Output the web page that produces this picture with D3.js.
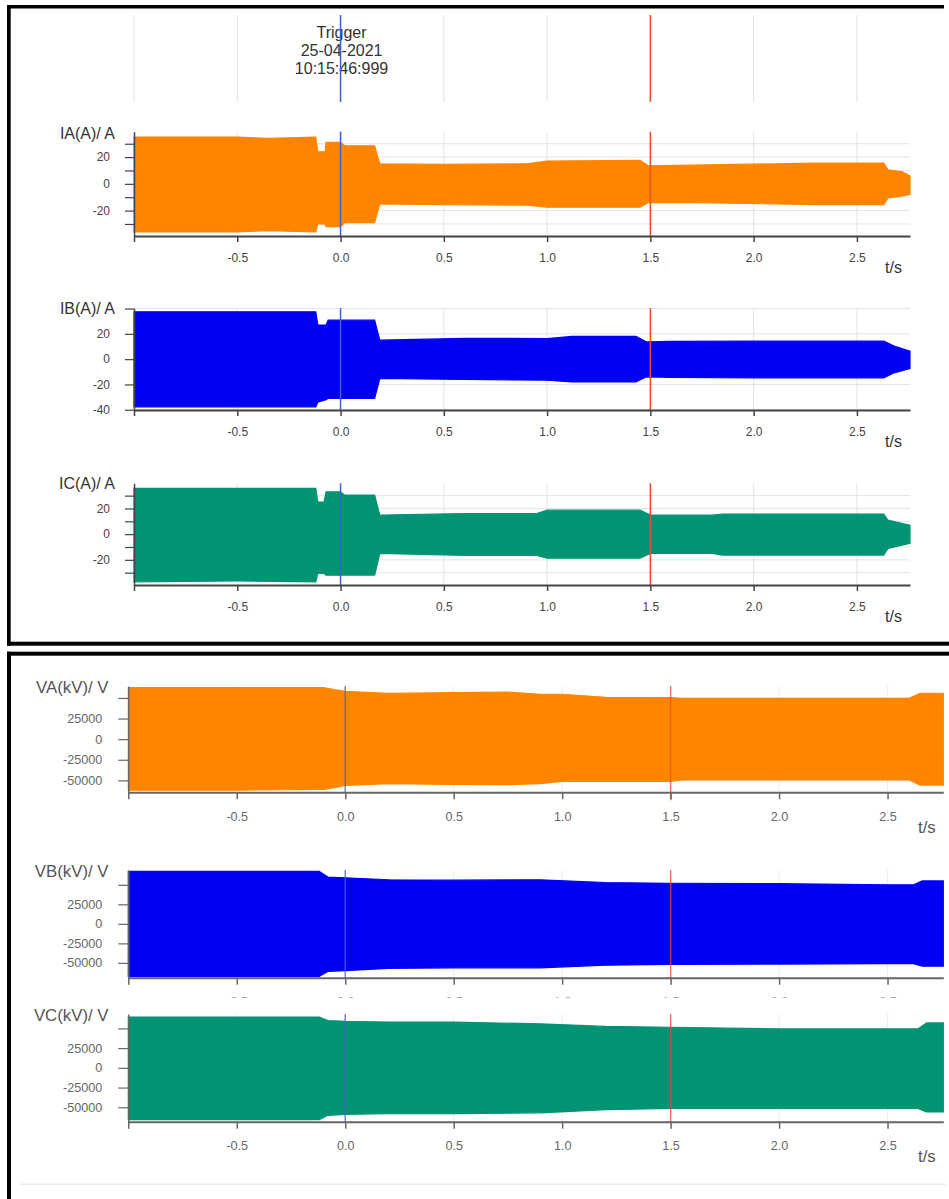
<!DOCTYPE html>
<html>
<head>
<meta charset="utf-8">
<script src="https://cdn.jsdelivr.net/npm/d3@7"></script>
<style>
  html, body { margin: 0; padding: 0; background: #fff; }
  svg { display: block; }
</style>
</head>
<body>
<svg id="chart" width="949" height="1199"></svg>
<script>
// ---------------- DATA ----------------
const timeDomain = [-1, 2.757];
const timeTicks = [-1, -0.5, 0, 0.5, 1.0, 1.5, 2.0, 2.5];
const timeTickLabels = ["", "-0.5", "0.0", "0.5", "1.0", "1.5", "2.0", "2.5"];
const triggerTime = 0;
const cursorTime = 1.5;
const triggerText = ["Trigger", "25-04-2021", "10:15:46:999"];
const axisUnit = "t/s";

const currentTicks = [-30, -20, -10, 0, 10, 20, 30];
const currentTickLabels = ["", "-20", "", "0", "", "20", ""];
const ibTicks = [-40, -20, 0, 20, 40];
const ibTickLabels = ["-40", "-20", "0", "20", ""];
const voltTicks = [-50000, -25000, 0, 25000, 50000];
const voltTickLabels = ["-50000", "-25000", "0", "25000", ""];

// envelopes (time s, upper peak, lower peak) read from the recording
const iaT   = [-1.0, -0.5, -0.35, -0.12, -0.11, -0.075, -0.07, 0.0, 0.02, 0.165, 0.19, 0.5, 0.9, 1.0, 1.45, 1.49, 1.7, 2.3, 2.63, 2.65, 2.72, 2.757];
const iaMax = [35, 35, 34, 35, 24, 24, 31, 31, 28.5, 28.5, 15, 14.5, 15, 17, 17.5, 13.5, 14, 15.5, 15.5, 10.5, 9, 6];
const iaMin = [-36, -36, -35, -36, -30, -30, -32, -32, -29, -29, -15, -15.5, -16, -17.5, -17.5, -14, -14, -15.5, -15.5, -10.5, -9, -8];

const ibT   = [-1.0, -0.5, -0.12, -0.11, -0.07, -0.06, 0.165, 0.19, 0.6, 1.0, 1.12, 1.43, 1.48, 1.6, 2.0, 2.4, 2.63, 2.68, 2.757];
const ibMax = [37.4, 37.4, 37.4, 27, 27, 30.8, 30.8, 15, 16.4, 16.3, 18, 18, 13.7, 14, 14.2, 14.2, 14.2, 10.3, 6.3];
const ibMin = [-37.7, -37.7, -37.7, -34, -32, -31, -31, -15.3, -16, -16.6, -18, -18, -14, -14.5, -14.8, -14.8, -14.8, -10.8, -7.4];

const icT   = [-1.0, -0.5, -0.12, -0.11, -0.08, -0.07, 0.0, 0.02, 0.165, 0.19, 0.6, 0.95, 1.0, 1.45, 1.5, 1.8, 1.85, 2.6, 2.63, 2.65, 2.757];
const icMax = [35.6, 35.6, 35.6, 25, 25, 33, 33, 30.4, 30.4, 14.8, 16.1, 16.1, 18.7, 18.7, 14.8, 14.8, 15.6, 15.6, 15.6, 10.9, 7];
const icMin = [-37.1, -36.5, -37.1, -30.6, -30.6, -32, -32, -31.9, -31.9, -15, -16.5, -16.5, -18.7, -18.7, -15, -15, -16.3, -16.3, -16.3, -11.2, -7.2];

const vaT   = [-1.0, -0.5, -0.1, -0.05, 0.0, 0.2, 0.5, 0.75, 0.9, 1.0, 1.2, 1.5, 1.55, 2.0, 2.6, 2.65, 2.757];
const vaMax = [62700, 62700, 62700, 60000, 58000, 55500, 56500, 57000, 54500, 54500, 50800, 50400, 49500, 49500, 49500, 55700, 55700];
const vaMin = [-61900, -61900, -61000, -59000, -56000, -54000, -55000, -55300, -54000, -51200, -51200, -51200, -49500, -49500, -49500, -55700, -55700];

const vbT   = [-1.0, -0.5, -0.12, -0.08, 0.0, 0.2, 0.5, 0.9, 1.2, 1.5, 2.0, 2.5, 2.62, 2.66, 2.757];
const vbMax = [67300, 67300, 67300, 60000, 59000, 56500, 56000, 56400, 53000, 52000, 51500, 50000, 50000, 55000, 55000];
const vbMin = [-67300, -67300, -67300, -61000, -60000, -57000, -56400, -56400, -53000, -52000, -51500, -51000, -51000, -54300, -54300];

const vcT   = [-1.0, -0.5, -0.12, -0.08, 0.0, 0.2, 0.5, 0.9, 1.2, 1.5, 2.0, 2.6, 2.64, 2.68, 2.757];
const vcMax = [64400, 64400, 64400, 60000, 59000, 58000, 58000, 55800, 52500, 51500, 49400, 49400, 49400, 57000, 57000];
const vcMin = [-65700, -65700, -65700, -60200, -59000, -58000, -58000, -57000, -53000, -51500, -51500, -51500, -51500, -56000, -56000];

const colorA = "#ff8500";
const colorB = "#0000f5";
const colorC = "#009473";

// ---------------- DRAW ----------------
const FONT = "'Liberation Sans', Arial, Helvetica, sans-serif";
const svg = d3.select("#chart");
svg.append("rect").attr("width", 949).attr("height", 1199).attr("fill", "#fff");

function drawPanel(o) {
  const g = svg.append("g");
  const x = d3.scaleLinear().domain(timeDomain).range(o.xRange);
  const y = d3.scaleLinear().domain(o.yDomain).range([o.yBot, o.yTop]);
  // grid
  g.append("g").selectAll("line").data(o.yTicks).join("line")
    .attr("x1", o.xRange[0]).attr("x2", o.xRange[1])
    .attr("y1", d => y(d)).attr("y2", d => y(d))
    .attr("stroke", o.grid).attr("stroke-width", 1);
  g.append("g").selectAll("line").data(timeTicks.slice(1)).join("line")
    .attr("x1", d => x(d)).attr("x2", d => x(d))
    .attr("y1", o.yTop).attr("y2", o.yBot)
    .attr("stroke", o.grid).attr("stroke-width", 1);
  // envelope
  const idx = d3.range(o.t.length);
  const area = d3.area()
    .x(i => x(o.t[i])).y0(i => y(o.min[i])).y1(i => y(o.max[i]));
  g.append("path").datum(idx).attr("d", area)
    .attr("fill", o.color).attr("stroke", o.color).attr("stroke-width", 1.2)
    .attr("stroke-linejoin", "miter");
  // cursor lines
  g.append("line").attr("x1", x(triggerTime)).attr("x2", x(triggerTime))
    .attr("y1", o.yTop).attr("y2", o.yBot)
    .attr("stroke", o.trigColor).attr("stroke-width", 1.5).attr("opacity", o.lineOpacity);
  g.append("line").attr("x1", x(cursorTime)).attr("x2", x(cursorTime))
    .attr("y1", o.yTop).attr("y2", o.yBot + (o.cursorExtra || 0))
    .attr("stroke", "#e8501f").attr("stroke-width", 1.5).attr("opacity", o.lineOpacity);
  // y axis
  const ya = g.append("g").attr("transform", `translate(${o.xRange[0]},0)`)
    .call(d3.axisLeft(y).tickValues(o.yTicks).tickFormat((d, i) => o.yLabels[i])
      .tickSize(o.yTickSize).tickPadding(o.yTickPad).tickSizeOuter(0));
  ya.attr("font-size", o.tickFont).attr("font-family", FONT);
  ya.select(".domain").attr("stroke", o.axisColor).attr("stroke-width", 1.5);
  ya.selectAll(".tick line").attr("stroke", o.axisColor).attr("stroke-width", 1.2);
  ya.selectAll("text").attr("fill", o.textColor);
  // x axis
  const xa = g.append("g").attr("transform", `translate(0,${o.yBot})`)
    .call(d3.axisBottom(x).tickValues(timeTicks).tickFormat((d, i) => timeTickLabels[i])
      .tickSize(o.xTickSize).tickPadding(o.xTickPad).tickSizeOuter(0));
  xa.attr("font-size", o.tickFont).attr("font-family", FONT);
  xa.select(".domain").attr("stroke", o.axisColor).attr("stroke-width", 2);
  xa.selectAll(".tick line").attr("stroke", o.axisColor).attr("stroke-width", 1.5);
  xa.selectAll("text").attr("fill", o.textColor);
  // title
  g.append("text").attr("x", o.titleRight).attr("y", o.titleBase)
    .attr("text-anchor", "end").attr("font-family", FONT).attr("font-size", o.titleFont)
    .attr("fill", o.titleColor).text(o.title);
  // unit
  g.append("text").attr("x", o.unitX).attr("y", o.yBot + o.unitDy)
    .attr("font-family", FONT).attr("font-size", o.titleFont)
    .attr("fill", o.titleColor).text(axisUnit);
}

// ---- top screenshot: currents ----
const topX = [134, 910];
const xTop = d3.scaleLinear().domain(timeDomain).range(topX);
const header = svg.append("g");
header.selectAll("line.g").data(timeTicks).join("line")
  .attr("x1", d => xTop(d)).attr("x2", d => xTop(d)).attr("y1", 15).attr("y2", 102)
  .attr("stroke", "#e2e2e2").attr("stroke-width", 1);
header.append("text").attr("x", xTop(triggerTime) + 1).attr("text-anchor", "middle")
  .attr("font-family", FONT).attr("font-size", 16).attr("fill", "#333")
  .selectAll("tspan").data(triggerText).join("tspan")
  .attr("x", xTop(triggerTime) + 1).attr("y", (d, i) => 38 + i * 18).text(d => d);
header.append("line").attr("x1", xTop(triggerTime)).attr("x2", xTop(triggerTime))
  .attr("y1", 15).attr("y2", 102).attr("stroke", "#3c5fd0").attr("stroke-width", 1.5);
header.append("line").attr("x1", xTop(cursorTime)).attr("x2", xTop(cursorTime))
  .attr("y1", 15).attr("y2", 102).attr("stroke", "#e8501f").attr("stroke-width", 1.5);

const topStyle = {
  xRange: topX, grid: "#e4e4e4", trigColor: "#3c5fd0", lineOpacity: 1,
  yTickSize: 9, yTickPad: 15, xTickSize: 6, xTickPad: 11, tickFont: 12,
  axisColor: "#444", textColor: "#444", titleColor: "#333", titleFont: 16,
  titleRight: 115, unitX: 885, unitDy: 37
};
drawPanel(Object.assign({}, topStyle, {
  yTop: 131.7, yBot: 236, yDomain: [-39, 39], yTicks: currentTicks, yLabels: currentTickLabels,
  t: iaT, max: iaMax, min: iaMin, color: colorA, title: "IA(A)/ A", titleBase: 138.8
}));
drawPanel(Object.assign({}, topStyle, {
  yTop: 308.3, yBot: 410, yDomain: [-40.2, 40.2], yTicks: ibTicks, yLabels: ibTickLabels,
  t: ibT, max: ibMax, min: ibMin, color: colorB, title: "IB(A)/ A", titleBase: 313.5
}));
drawPanel(Object.assign({}, topStyle, {
  yTop: 483.3, yBot: 585, yDomain: [-39.6, 39.6], yTicks: currentTicks, yLabels: currentTickLabels,
  t: icT, max: icMax, min: icMin, color: colorC, title: "IC(A)/ A", titleBase: 489.3
}));

// ---- bottom screenshot: voltages ----
const botStyle = {
  xRange: [128.3, 943.3], grid: "#ececec", trigColor: "#4a64c8", lineOpacity: 0.75,
  yTickSize: 10, yTickPad: 16, xTickSize: 7, xTickPad: 12.5, tickFont: 12.6,
  axisColor: "#666", textColor: "#666", titleColor: "#555", titleFont: 16.8,
  titleRight: 108.5, unitX: 918, unitDy: 41, yTicks: voltTicks, yLabels: voltTickLabels
};
drawPanel(Object.assign({}, botStyle, {
  yTop: 686, yBot: 792.3, yDomain: [-64500, 64500],
  t: vaT, max: vaMax, min: vaMin, color: colorA, title: "VA(kV)/ V", titleBase: 692.7, cursorExtra: 8
}));
drawPanel(Object.assign({}, botStyle, {
  yTop: 870, yBot: 977.7, yDomain: [-69000, 69000],
  t: vbT, max: vbMax, min: vbMin, color: colorB, title: "VB(kV)/ V", titleBase: 876.5
}));
// VC panel background overlaps VB's tick labels
svg.append("rect").attr("x", 12).attr("y", 997.6).attr("width", 937).attr("height", 30).attr("fill", "#fff");
drawPanel(Object.assign({}, botStyle, {
  yTop: 1014, yBot: 1121.7, yDomain: [-68300, 68300],
  t: vcT, max: vcMax, min: vcMin, color: colorC, title: "VC(kV)/ V", titleBase: 1020.5, unitDy: 40
}));
svg.append("line").attr("x1", 20).attr("x2", 946).attr("y1", 1184.3).attr("y2", 1184.3)
  .attr("stroke", "#ebebeb").attr("stroke-width", 1.5);

// ---- screenshot frames ----
const frame = svg.append("g").attr("fill", "#000");
frame.append("rect").attr("x", 7).attr("y", 5).attr("width", 937).attr("height", 3.5);
frame.append("rect").attr("x", 7).attr("y", 5).attr("width", 3.7).attr("height", 640.7);
frame.append("rect").attr("x", 7).attr("y", 641.7).attr("width", 942).attr("height", 4);
frame.append("rect").attr("x", 7).attr("y", 651.7).attr("width", 942).attr("height", 4);
frame.append("rect").attr("x", 7).attr("y", 651.7).attr("width", 4).attr("height", 548);
</script>
</body>
</html>
